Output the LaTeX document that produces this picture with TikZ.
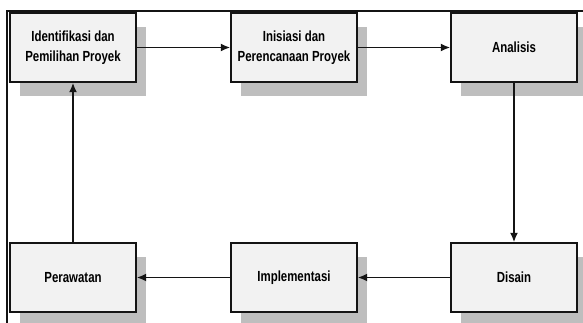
\documentclass[tikz,border=0pt]{standalone}
\usepackage{fontspec}
\setmainfont{Liberation Sans}[FakeStretch=0.78]
\usetikzlibrary{arrows.meta}
\usetikzlibrary{shadows}

\definecolor{boxfill}{RGB}{242,242,242}
\definecolor{shadowgray}{RGB}{190,190,190}
\definecolor{frameline}{RGB}{20,20,20}

\tikzset{
  stage/.style={draw=frameline, line width=1.3pt, fill=boxfill,
    minimum width=94.5pt, minimum height=51.75pt, inner sep=0pt,
    align=center, font=\bfseries\fontsize{11}{15}\selectfont,
    drop shadow={shadow xshift=7.5pt, shadow yshift=-10.5pt, fill=shadowgray, opacity=1}},
  flow/.style={draw=frameline, line width=1.1pt, -{Latex[length=7pt,width=6pt]}}
}

\begin{document}
\begin{tikzpicture}[x=0.75pt,y=0.75pt,yscale=-1,xscale=1]
\useasboundingbox (0,0) rectangle (583,323);
\fill[white] (0,0) rectangle (583,323);

%Frame
\draw [frameline, line width=1.9pt] (7,323) -- (7,11) -- (583,11);

% Top row
\node [stage] (ident) at (73,47.5) {Identifikasi dan\\Pemilihan Proyek};
\node [stage] (inisi) at (294,47.5) {Inisiasi dan\\Perencanaan Proyek};
\node [stage] (anal) at (514,47.5) {Analisis};

% Bottom row
\node [stage] (rawat) at (73,277.5) {Perawatan};
\node [stage] (impl) at (294,277.5) {Implementasi};
\node [stage] (disain) at (514,277.5) {Disain};

% Connectors
\draw [flow] (ident) -- (inisi);
\draw [flow] (inisi) -- (anal);
\draw [flow] (anal) -- (disain);
\draw [flow] (disain) -- (impl);
\draw [flow] (impl) -- (rawat);
\draw [flow] (rawat) -- (ident);

\end{tikzpicture}
\end{document}
